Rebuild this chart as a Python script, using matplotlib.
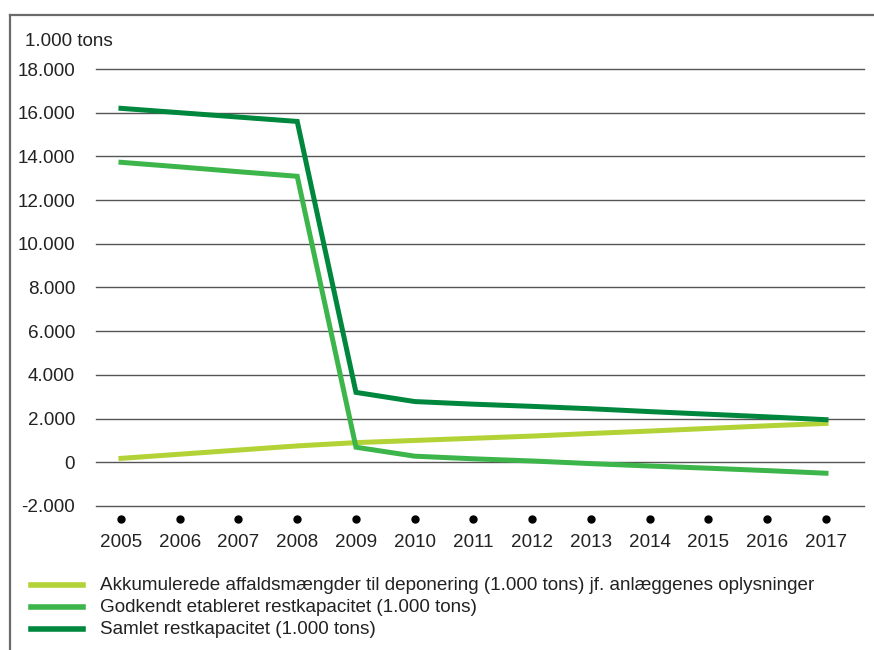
import matplotlib.pyplot as plt
from matplotlib.lines import Line2D
from matplotlib.ticker import FuncFormatter

plt.rcParams["font.family"] = ["Liberation Sans", "DejaVu Sans"]

years = list(range(2005, 2018))
akkumuleret = [180, 370, 560, 750, 900, 1000, 1100, 1200, 1320, 1430, 1550, 1670, 1780]
godkendt = [13730, 13520, 13300, 13090, 690, 280, 160, 60, -60, -170, -270, -380, -500]
samlet = [16200, 16000, 15800, 15600, 3200, 2780, 2660, 2560, 2450, 2320, 2200, 2080, 1950]

labels = [
    "Akkumulerede affaldsmængder til deponering (1.000 tons) jf. anlæggenes oplysninger",
    "Godkendt etableret restkapacitet (1.000 tons)",
    "Samlet restkapacitet (1.000 tons)",
]
colors = ["#b2d235", "#3cb54a", "#00873e"]
yticks = list(range(-2000, 18001, 2000))

W, H = 874, 650
FS = 13.6
fig = plt.figure(figsize=(W / 100, H / 100), dpi=100)
ax = fig.add_axes([96 / W, 1 - 506 / H, (864 - 96) / W, (506 - 69) / H])

for vals, c in zip([akkumuleret, godkendt, samlet], colors):
    ax.plot(years, vals, color=c, lw=3.6, solid_joinstyle="miter", zorder=3)

ax.set_ylim(-2000, 18000)
ax.set_xlim(2004.575, 2017.647)
ax.set_yticks(yticks)
ax.yaxis.set_major_formatter(FuncFormatter(lambda v, p: f"{int(v):,}".replace(",", ".")))
ax.set_xticks(years)
ax.set_xticklabels([str(y) for y in years])
ax.tick_params(axis="y", length=0, pad=15, labelsize=FS, colors="#222222")
ax.tick_params(axis="x", length=0, pad=20, labelsize=FS, colors="#222222")
ax.grid(axis="y", color="#555555", lw=1)
for gl in ax.get_ygridlines():
    gl.set_clip_on(False)
ax.set_axisbelow(True)
for s in ax.spines.values():
    s.set_visible(False)

# year markers below the plot area
ax.plot(years, [-0.03] * len(years), "o", ms=5, color="black",
        transform=ax.get_xaxis_transform(), clip_on=False)

fig.text(25 / W, 1 - 41 / H, "1.000 tons", fontsize=FS, color="#222222", va="center")

# outer frame: left and top edges
fig.add_artist(Line2D([10 / W, 10 / W], [0, 1 - 15 / H], color="#6b6b6b", lw=1.6))
fig.add_artist(Line2D([10 / W, 1], [1 - 15 / H, 1 - 15 / H], color="#6b6b6b", lw=1.6))

# legend rows
for i, (lab, c) in enumerate(zip(labels, colors)):
    y = 1 - (585 + 22 * i) / H
    fig.add_artist(Line2D([31 / W, 83 / W], [y, y], color=c, lw=4))
    fig.text(100 / W, y, lab, fontsize=FS, color="#222222", va="center")

fig.savefig("out.png", dpi=100)
